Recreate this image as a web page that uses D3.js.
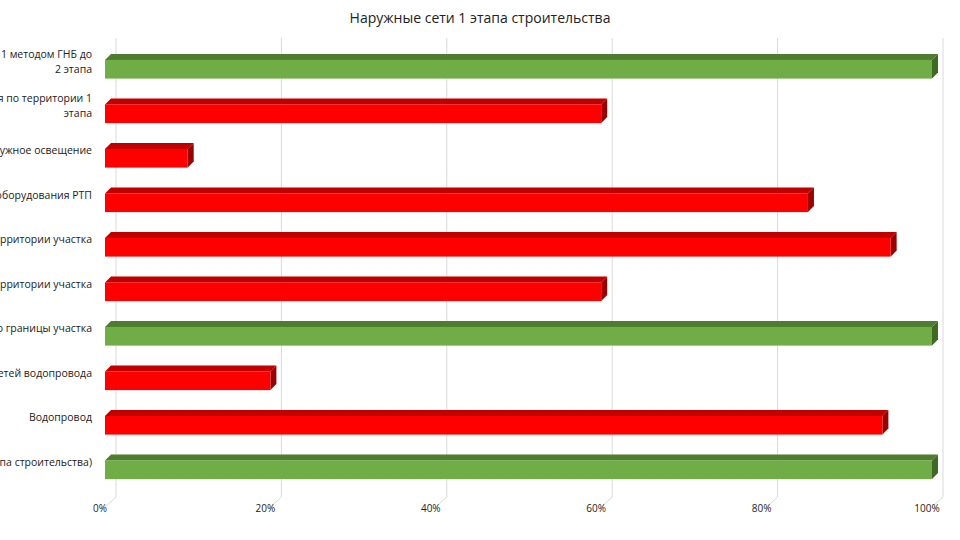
<!DOCTYPE html>
<html><head><meta charset="utf-8">
<script src="https://cdn.jsdelivr.net/npm/d3@7"></script>
<style>body{margin:0;background:#fff}text{font-family:"Open Sans",sans-serif}</style>
</head><body>
<svg id="chart" width="960" height="540"></svg>
<script>
const labels = [
  ["Прокладка сети 1 методом ГНБ до", "2 этапа"],
  ["Сети электроснабжения по территории 1", "этапа"],
  ["Наружное освещение"],
  ["Монтаж оборудования РТП"],
  ["Сети канализации по территории участка"],
  ["Сети водопровода по территории участка"],
  ["Подводка до границы участка"],
  ["Монтаж сетей водопровода"],
  ["Водопровод"],
  ["Сети (1 этапа строительства)"]
];
const values = [100, 60, 10, 85, 95, 60, 100, 20, 94, 100];
const done = [true, false, false, false, false, false, true, false, false, true];
const ticks = [0, 20, 40, 60, 80, 100];

const svg = d3.select("#chart");
const x = d3.scaleLinear().domain([0, 100]).range([105, 932]);
const y = d3.scaleBand().domain(d3.range(values.length)).range([47, 492]).paddingInner(0.58).paddingOuter(0.29);
const dx = 6, dy = 6;

svg.append("text").attr("x", 480).attr("y", 23).attr("text-anchor", "middle")
  .attr("font-size", 14).attr("fill", "#222").text("Наружные сети 1 этапа строительства");

const grid = svg.append("g");
ticks.forEach(t => {
  const gx = x(t) + dx + 5;
  grid.append("line").attr("x1", gx).attr("x2", gx).attr("y1", 38).attr("y2", 497)
    .attr("stroke", "#d9d9d9");
  grid.append("line").attr("x1", gx).attr("x2", gx - 11).attr("y1", 497).attr("y2", 507)
    .attr("stroke", "#d9d9d9");
  grid.append("text").attr("x", x(t) - 5).attr("y", 512).attr("text-anchor", "middle")
    .attr("font-size", 10).attr("fill", "#222").text(t + "%");
});

const bars = svg.append("g").selectAll("g").data(values).join("g");
bars.each(function (v, i) {
  const g = d3.select(this);
  const x0 = x(0), x1 = x(v), y0 = y(i), h = y.bandwidth();
  const c = done[i] ? ["#70ad47", "#4e7d2f", "#3f6a24"] : ["#ff0000", "#c00000", "#9a0000"];
  g.append("path").attr("fill", c[1])
    .attr("d", `M${x0},${y0}L${x0 + dx},${y0 - dy}L${x1 + dx},${y0 - dy}L${x1},${y0}Z`);
  g.append("path").attr("fill", c[2])
    .attr("d", `M${x1},${y0}L${x1 + dx},${y0 - dy}L${x1 + dx},${y0 + h - dy}L${x1},${y0 + h}Z`);
  g.append("rect").attr("x", x0).attr("y", y0).attr("width", x1 - x0).attr("height", h).attr("fill", c[0]);
});

const lab = svg.append("g").selectAll("text").data(labels).join("text")
  .attr("text-anchor", "end").attr("font-size", 10.5).attr("fill", "#222")
  .attr("x", 92)
  .attr("y", (d, i) => y(i) + y.bandwidth() / 2 - (d.length - 1) * 7.5 - 4);
lab.selectAll("tspan").data(d => d).join("tspan")
  .attr("x", 92).attr("dy", (d, j) => j ? 15 : 0).text(d => d);
</script>
</body></html>
